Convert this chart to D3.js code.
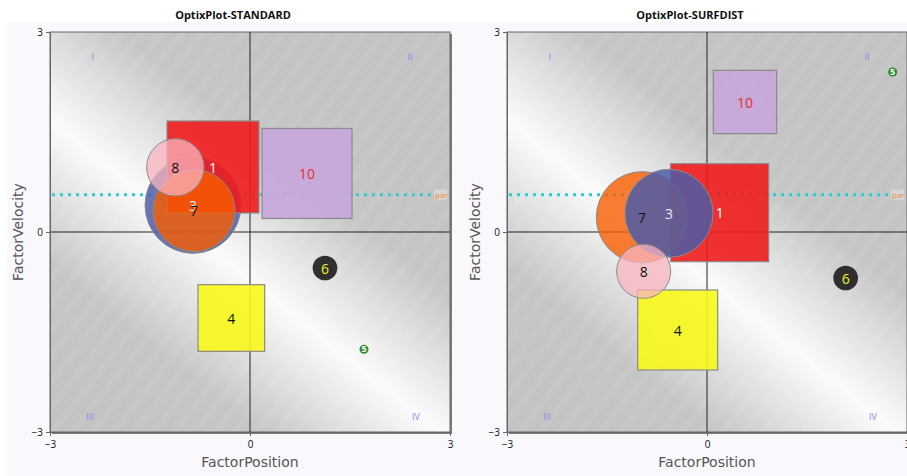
<!DOCTYPE html>
<html>
<head>
<meta charset="utf-8">
<script src="https://cdn.jsdelivr.net/npm/d3@7"></script>
<style>
  body { margin: 0; background: #fff; }
  text { font-family: "Open Sans", "DejaVu Sans", sans-serif; }
</style>
</head>
<body>
<div id="chart"></div>
<script>
// marker ids, shapes and colours (same in both plots)
const ids = ["1", "3", "4", "5", "6", "7", "8", "10"];
const shapes = ["square", "circle", "square", "dot", "circle", "circle", "circle", "square"];
const fills = ["#f01c1c", "#4e5ca6", "#f8f81c", "#2d8c2d", "#262626", "#f75c00", "#f8b4bf", "#c6a6dc"];
const fillOpacity = [0.9, 0.85, 0.9, 1, 0.95, 0.8, 0.75, 0.9];
const labelColors = ["#ffffff", "#e8e8f8", "#111111", "#ffffff", "#f0f020", "#111111", "#111111", "#e03030"];

// OptixPlot-STANDARD
const stdX = [-0.555, -0.855, -0.28, 1.71, 1.125, -0.84, -1.12, 0.855];
const stdY = [0.975, 0.40, -1.29, -1.76, -0.54, 0.32, 0.97, 0.878];
const stdSize = [1.38, 1.44, 1.0, 0.14, 0.37, 1.23, 0.86, 1.35];

// OptixPlot-SURFDIST
const sdX = [0.19, -0.57, -0.44, 2.785, 2.08, -0.975, -0.95, 0.57];
const sdY = [0.29, 0.28, -1.47, 2.4, -0.69, 0.22, -0.59, 1.95];
const sdSize = [1.47, 1.32, 1.2, 0.14, 0.37, 1.37, 0.81, 0.95];

const tickValues = [-3, 0, 3];
const quadrants = ["I", "II", "III", "IV"];
const quadX = [-2.36, 2.4, -2.4, 2.49];
const quadY = [2.63, 2.63, -2.76, -2.76];
const parValue = 0.56;

const panels = [
  {title: "OptixPlot-STANDARD", x: stdX, y: stdY, size: stdSize, left: 50, titleX: 233, bgX: 7},
  {title: "OptixPlot-SURFDIST", x: sdX, y: sdY, size: sdSize, left: 507, titleX: 690, bgX: 457}
];

const W = 907, H = 476;
const plotW = 400, plotH = 400, plotTop = 32;

const svg = d3.select("#chart").append("svg")
  .attr("width", W)
  .attr("height", H);

const defs = svg.append("defs");

panels.forEach((p, pi) => {
  const x = d3.scaleLinear().domain([-3, 3]).range([p.left, p.left + plotW]);
  const y = d3.scaleLinear().domain([-3, 3]).range([plotTop + plotH, plotTop]);
  const g = svg.append("g");

  // panel background
  g.append("rect")
    .attr("x", p.bgX).attr("y", 22)
    .attr("width", 453).attr("height", H - 22)
    .attr("fill", "#f8f8fd");

  g.append("text")
    .attr("x", p.titleX).attr("y", 19)
    .attr("text-anchor", "middle")
    .style("font-size", "11px")
    .style("font-weight", "bold")
    .attr("fill", "#111")
    .text(p.title);

  // diagonal light band
  const gid = "band" + pi;
  const grad = defs.append("linearGradient")
    .attr("id", gid)
    .attr("gradientUnits", "userSpaceOnUse")
    .attr("x1", p.left + 75).attr("y1", plotTop + 404)
    .attr("x2", p.left + 325).attr("y2", plotTop + 92);
  [[0, "#c3c3c3"], [0.22, "#c6c6c6"], [0.5, "#fbfbfb"], [0.78, "#c6c6c6"], [1, "#c3c3c3"]]
    .forEach(s => grad.append("stop").attr("offset", s[0]).attr("stop-color", s[1]));

  const pid = "stripe" + pi;
  const pat = defs.append("pattern")
    .attr("id", pid)
    .attr("patternUnits", "userSpaceOnUse")
    .attr("width", 16).attr("height", 16)
    .attr("patternTransform", "rotate(38)");
  pat.append("rect").attr("width", 7).attr("height", 16).attr("fill", "#fff").attr("opacity", 0.05);

  // frame shadow + plot area
  g.append("rect")
    .attr("x", p.left + 2).attr("y", plotTop + 2)
    .attr("width", plotW).attr("height", plotH)
    .attr("fill", "#7a7a7a");
  g.append("rect")
    .attr("x", p.left).attr("y", plotTop)
    .attr("width", plotW).attr("height", plotH)
    .attr("fill", "url(#" + gid + ")");
  g.append("rect")
    .attr("x", p.left).attr("y", plotTop)
    .attr("width", plotW).attr("height", plotH)
    .attr("fill", "url(#" + pid + ")");
  g.append("rect")
    .attr("x", p.left).attr("y", plotTop)
    .attr("width", plotW).attr("height", plotH)
    .attr("fill", "none")
    .attr("stroke", "#666");

  // zero lines
  g.append("line")
    .attr("x1", x(0)).attr("x2", x(0)).attr("y1", plotTop).attr("y2", plotTop + plotH)
    .attr("stroke", "#222");
  g.append("line")
    .attr("x1", p.left).attr("x2", p.left + plotW).attr("y1", y(0)).attr("y2", y(0))
    .attr("stroke", "#222");

  // quadrant labels
  g.selectAll(".quad").data(quadrants).enter().append("text")
    .attr("x", (d, i) => x(quadX[i]))
    .attr("y", (d, i) => y(quadY[i]))
    .attr("text-anchor", "middle")
    .attr("dominant-baseline", "central")
    .style("font-size", "9px")
    .attr("fill", "#8888f0")
    .text(d => d);

  // par line
  g.append("line")
    .attr("x1", p.left + 2).attr("x2", p.left + 382)
    .attr("y1", y(parValue)).attr("y2", y(parValue))
    .attr("stroke", "#2ccdd0")
    .attr("stroke-width", 3)
    .attr("stroke-dasharray", "3,5");
  g.append("rect")
    .attr("x", p.left + 384).attr("y", y(parValue) - 5)
    .attr("width", 13).attr("height", 10)
    .attr("fill", "#d6d6d6");
  g.append("text")
    .attr("x", p.left + 385).attr("y", y(parValue))
    .attr("dominant-baseline", "central")
    .style("font-size", "8px")
    .attr("fill", "#f08a30")
    .text("par");

  // markers, bigger ones first
  const order = d3.range(ids.length).sort((a, b) => p.size[b] - p.size[a]);
  const px = s => x(s) - x(0);

  order.forEach(i => {
    const cx = x(p.x[i]), cy = y(p.y[i]), s = px(p.size[i]);
    if (shapes[i] === "square") {
      g.append("rect")
        .attr("x", cx - s / 2).attr("y", cy - s / 2)
        .attr("width", s).attr("height", s)
        .attr("fill", fills[i])
        .attr("fill-opacity", fillOpacity[i])
        .attr("stroke", "#8a8a8a")
        .attr("stroke-width", 1.2);
    } else if (shapes[i] === "circle") {
      g.append("circle")
        .attr("cx", cx).attr("cy", cy).attr("r", s / 2)
        .attr("fill", fills[i])
        .attr("fill-opacity", fillOpacity[i])
        .attr("stroke", i === 4 ? "none" : "#8a8a8a")
        .attr("stroke-width", 1);
    } else {
      g.append("circle")
        .attr("cx", cx).attr("cy", cy).attr("r", 4.5)
        .attr("fill", fills[i]);
    }
  });

  order.forEach(i => {
    const dot = shapes[i] === "dot";
    g.append("text")
      .attr("x", x(p.x[i]))
      .attr("y", y(p.y[i]) - (dot ? 1 : 0))
      .attr("text-anchor", "middle")
      .attr("dominant-baseline", "central")
      .style("font-size", dot ? "9px" : "14px")
      .style("font-weight", dot ? "bold" : "normal")
      .attr("fill", labelColors[i])
      .text(ids[i]);
  });

  // axes
  const ax = g.append("g")
    .attr("transform", "translate(0," + (plotTop + plotH) + ")")
    .call(d3.axisBottom(x).tickValues(tickValues).tickSize(4).tickFormat(d3.format("d")));
  const ay = g.append("g")
    .attr("transform", "translate(" + p.left + ",0)")
    .call(d3.axisLeft(y).tickValues(tickValues).tickSize(4).tickFormat(d3.format("d")));
  [ax, ay].forEach(a => {
    a.select(".domain").attr("stroke", "#666");
    a.selectAll(".tick line").attr("stroke", "#666");
    a.selectAll(".tick text")
      .style("font-family", "'Open Sans', sans-serif")
      .style("font-size", "10px")
      .attr("fill", "#111");
  });
  ax.selectAll(".tick text").attr("dy", "0.9em");

  g.append("text")
    .attr("x", x(0)).attr("y", 467)
    .attr("text-anchor", "middle")
    .style("font-family", "'DejaVu Sans', sans-serif")
    .style("font-size", "14px")
    .attr("fill", "#555")
    .text("FactorPosition");
  g.append("text")
    .attr("transform", "translate(" + (p.left - 27) + "," + y(0) + ") rotate(-90)")
    .attr("text-anchor", "middle")
    .style("font-family", "'DejaVu Sans', sans-serif")
    .style("font-size", "14px")
    .attr("fill", "#555")
    .text("FactorVelocity");
});
</script>
</body>
</html>
